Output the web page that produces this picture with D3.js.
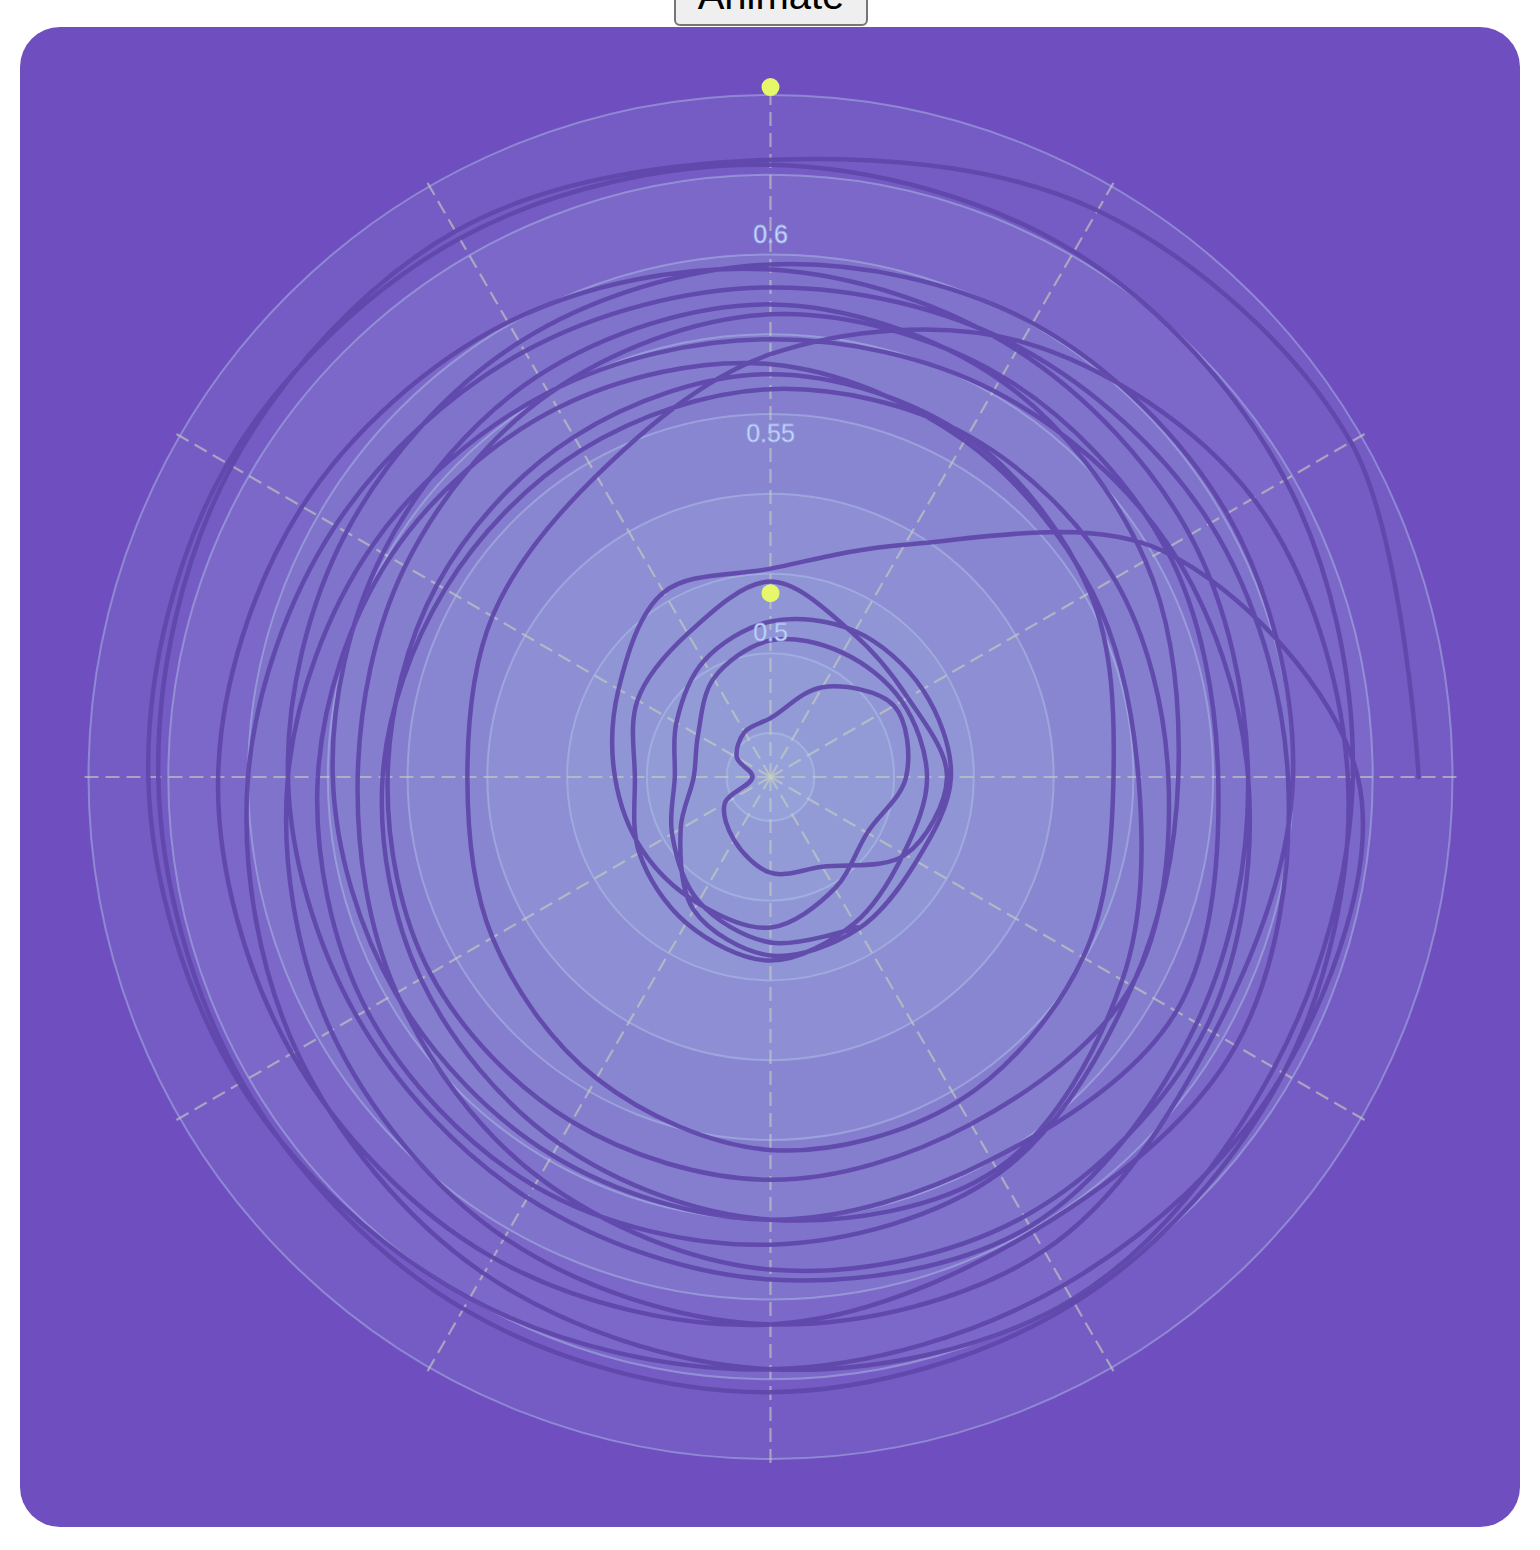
<!DOCTYPE html>
<html><head><meta charset="utf-8">
<script src="https://cdn.jsdelivr.net/npm/d3@7"></script>
<style>
html,body{margin:0;padding:0;background:#fff;width:1540px;height:1550px;overflow:hidden;}
svg{position:absolute;left:0;top:0;}
#btn{position:absolute;left:674px;top:-36px;width:194px;height:62px;font:40px "Liberation Sans",Arial,sans-serif;background:#efefef;border:2px solid #767676;border-radius:6px;color:#000;padding:0;z-index:2;}
</style></head><body>
<svg id="chart" width="1540" height="1550"></svg>
<button id="btn">Animate</button>
<script>
// Each revolution: values sampled every 30°, starting at 150° (clockwise from top)
const rev1  = [0.5125,0.5105,0.505,0.4975,0.493,0.49625,0.5025,0.508,0.51125,0.513,0.51425,0.51125];
const rev2  = [0.513,0.51375,0.5075,0.495,0.48825,0.49,0.4975,0.50325,0.505,0.507,0.50825,0.5075];
const rev3  = [0.51125,0.515,0.51125,0.507,0.503,0.5075,0.5105,0.518,0.5105,0.50875,0.51325,0.508];
const rev4  = [0.495,0.493,0.48725,0.48225,0.4735,0.47875,0.482,0.48375,0.495,0.50475,0.503,0.497];
const rev5  = [0.50125,0.50675,0.5055,0.506,0.508,0.513,0.5225,0.52125,0.53625,0.5825,0.61625,0.6175];
const rev6  = [0.6161,0.6175,0.6199,0.6227,0.625,0.6262,0.6249,0.6225,0.6211,0.61805,0.615,0.6148];
const rev7  = [0.62025,0.6175,0.61275,0.60625,0.6,0.595,0.59225,0.59175,0.5935,0.59625,0.59875,0.60375];
const rev8  = [0.6006,0.60625,0.60815,0.6076,0.6075,0.6046,0.60065,0.59625,0.5926,0.5904,0.58875,0.5924];
const rev9  = [0.5991,0.595,0.59085,0.58885,0.59,0.5918,0.5949,0.5975,0.6004,0.60115,0.6,0.59745];
const rev10 = [0.60616,0.60625,0.60241,0.59625,0.59,0.5845,0.58034,0.57875,0.58084,0.5845,0.58875,0.595];
const rev11 = [0.59625,0.5925,0.585,0.57725,0.5725,0.57475,0.58,0.585,0.585,0.5835,0.58125,0.5865];
const rev12 = [0.57975,0.58,0.5785,0.5775,0.57875,0.58125,0.58525,0.5875,0.584,0.5775,0.57125,0.57375];
const rev13 = [0.5837,0.58625,0.5874,0.5859,0.5825,0.57915,0.5758,0.5725,0.56635,0.5621,0.56125,0.57085];
const rev14 = [0.58255,0.58,0.5751,0.57025,0.56625,0.5632,0.5637,0.56625,0.5679,0.5685,0.56875,0.57355];
const rev15 = [0.5695,0.57,0.56875,0.5675,0.565,0.5655,0.5675,0.57,0.5675,0.5615,0.555,0.5595];
const rev16 = [0.563,0.5625,0.55625,0.5495,0.545,0.5495,0.55625,0.575,0.595,0.60875,0.61375,0.6175];
const rev17 = [0.62125,0.62325,0.623,0.622,0.6225,0.625,0.627,0.62375,0.633,0.637,0.6315];

const gridTicks  = [0.48,0.50,0.52,0.54,0.56,0.58,0.60,0.62,0.64];
const labelTicks = [0.5,0.55,0.6];
const markerValues = [0.642,0.5151];

const values = [].concat(rev1,rev2,rev3,rev4,rev5,rev6,rev7,rev8,rev9,rev10,rev11,rev12,rev13,rev14,rev15,rev16,rev17);

const cx = 770.5, cy = 777;
const svg = d3.select('#chart');
svg.append('rect').attr('x',20).attr('y',27).attr('width',1500).attr('height',1500)
   .attr('rx',40).attr('fill','#6f4ec0');

const g = svg.append('g').attr('transform',`translate(${cx},${cy})`);
const y = d3.scaleLinear().domain([0.47,0.64]).range([4,682]);
const start = 5*Math.PI/6;
const x = d3.scaleLinear().domain([0,12]).range([start, start + 2*Math.PI]);

// grid circles
g.append('g').selectAll('circle')
  .data(gridTicks.slice().reverse())
  .join('circle')
  .attr('r', d => y(d))
  .attr('fill','rgba(175,218,235,0.1)')
  .attr('stroke','rgba(180,200,235,0.45)')
  .attr('stroke-width',2);

// spokes
const spokeR = 688;
g.append('g').selectAll('line')
  .data(d3.range(0,360,30))
  .join('line')
  .attr('x1',0).attr('y1',0)
  .attr('x2', d => spokeR*Math.sin(d*Math.PI/180))
  .attr('y2', d => -spokeR*Math.cos(d*Math.PI/180))
  .attr('stroke','rgba(200,210,190,0.6)')
  .attr('stroke-width',2.2)
  .attr('stroke-dasharray','14,7');

// the line
const line = d3.lineRadial()
  .angle((d,i) => x(i))
  .radius(d => y(d))
  .curve(d3.curveCatmullRom.alpha(0.5));

g.append('path')
  .datum(values)
  .attr('d', line)
  .attr('fill','none')
  .attr('stroke','#5f47aa')
  .attr('stroke-opacity',0.93)
  .attr('stroke-width',4.5)
  .attr('stroke-linecap','round')
  .attr('stroke-linejoin','round');

// labels
g.append('g').selectAll('text')
  .data(labelTicks)
  .join('text')
  .attr('x',0)
  .attr('y', d => -y(d) - 12)
  .attr('text-anchor','middle')
  .attr('font-family','"Liberation Sans", Arial, sans-serif')
  .attr('font-size',25)
  .attr('fill','#c4e2ff')
  .attr('stroke','#9ea6e6')
  .attr('stroke-width',0.8)
  .text(d => d3.format('')(d));

// markers
g.append('g').selectAll('circle')
  .data(markerValues)
  .join('circle')
  .attr('cx',0)
  .attr('cy', d => -y(d))
  .attr('r',9)
  .attr('fill','#e6f76a');
</script>
</body></html>
